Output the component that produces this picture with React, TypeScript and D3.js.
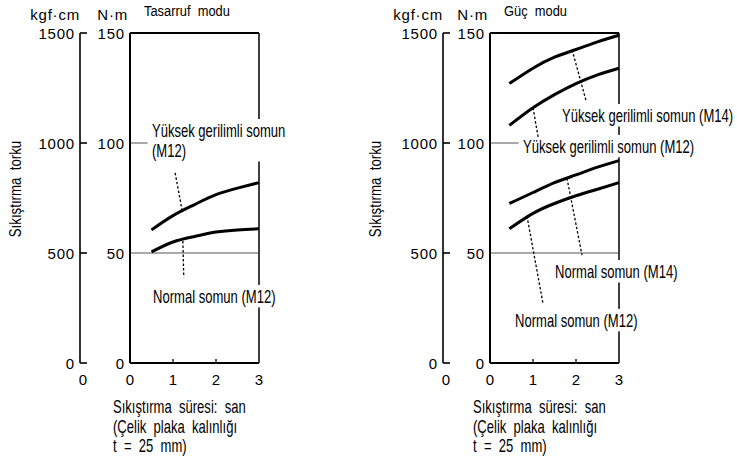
import React, { useEffect, useRef } from 'react';
import * as d3 from 'd3';

const W = 737;
const H = 463;

const timeTicks = [0, 1, 2, 3];
const nmTicks = [0, 50, 100, 150];
const kgfTicks = [0, 500, 1000, 1500];
const gridValues = [50, 100];

const panelTitles = ['Tasarruf  modu', 'Güç  modu'];
const yTitle = 'Sıkıştırma  torku';
const xTitleLines = ['Sıkıştırma  süresi:  san', '(Çelik  plaka  kalınlığı', 't  =  25  mm)'];

// Tasarruf modu (N·m vs seconds)
const ecoHighM12: [number, number][] = [[0.5, 60.5], [1, 67], [1.5, 72], [2, 76.5], [2.5, 79.5], [3, 82]];
const ecoNormalM12: [number, number][] = [[0.5, 50.5], [1, 55], [1.5, 57.5], [2, 59.5], [2.5, 60.5], [3, 61]];
// Güç modu
const powHighM14: [number, number][] = [[0.45, 127], [1, 134], [1.5, 139], [2, 142.5], [2.5, 146], [3, 149]];
const powHighM12: [number, number][] = [[0.45, 108], [1, 116], [1.5, 122], [2, 127], [2.5, 131], [3, 134]];
const powNormalM14: [number, number][] = [[0.45, 72.5], [1, 77.5], [1.5, 82], [2, 85.5], [2.5, 89], [3, 92]];
const powNormalM12: [number, number][] = [[0.45, 61], [1, 68], [1.5, 72.5], [2, 76], [2.5, 79], [3, 82]];

// annotation labels: text lines, anchor (t, N·m) of first baseline, leader from/to (t, N·m)
type Ann = { lines: string[]; at: [number, number]; leader: [[number, number], [number, number]] };
const ecoLabels: Ann[] = [
  { lines: ['Yüksek gerilimli somun', '(M12)'], at: [0.51, 102.7], leader: [[1.05, 86.4], [1.21, 69.5]] },
  { lines: ['Normal somun (M12)'], at: [0.535, 27.3], leader: [[1.23, 55.5], [1.25, 39]] },
];
const powLabels: Ann[] = [
  { lines: ['Yüksek gerilimli somun (M14)'], at: [1.674, 109.5], leader: [[1.91, 142.3], [2.23, 119.5]] },
  { lines: ['Yüksek gerilimli somun (M12)'], at: [0.767, 95.5], leader: [[1.0, 116], [1.12, 102.7]] },
  { lines: ['Normal somun (M14)'], at: [1.512, 38.6], leader: [[1.79, 84], [2.14, 49]] },
  { lines: ['Normal somun (M12)'], at: [0.581, 16.4], leader: [[0.86, 66.8], [1.23, 27.3]] },
];

const NUM_FONT = '"Liberation Sans", Arial, sans-serif';
const NARROW_FONT = '"Liberation Sans", Arial, sans-serif';
const NARROW = 0.725;

type Panel = {
  kgfX: number;
  left: number;
  right: number;
  yTitleX: number;
  title: string;
  series: [number, number][][];
  labels: Ann[];
};

const panels: Panel[] = [
  { kgfX: 80, left: 130, right: 259, yTitleX: 21, title: panelTitles[0], series: [ecoHighM12, ecoNormalM12], labels: ecoLabels },
  { kgfX: 443, left: 490, right: 619, yTitleX: 381, title: panelTitles[1], series: [powHighM14, powHighM12, powNormalM14, powNormalM12], labels: powLabels },
];

const TOP = 33;
const BOTTOM = 363;

export default function App() {
  const ref = useRef<SVGSVGElement>(null);

  useEffect(() => {
    const svg = d3.select(ref.current);
    svg.selectAll('*').remove();
    svg.append('rect').attr('width', W).attr('height', H).attr('fill', '#fff');

    panels.forEach((p) => {
      const g = svg.append('g');
      const x = d3.scaleLinear().domain([0, 3]).range([p.left, p.right]);
      const y = d3.scaleLinear().domain([0, 150]).range([BOTTOM, TOP]);
      const yk = d3.scaleLinear().domain([0, 1500]).range([BOTTOM, TOP]);

      // units & title
      g.append('text').attr('x', p.kgfX).attr('y', 20).attr('text-anchor', 'end')
        .attr('font-family', NUM_FONT).attr('font-size', 15).attr('letter-spacing', 0.8).text('kgf·cm');
      g.append('text').attr('x', p.left - 2).attr('y', 20).attr('text-anchor', 'end')
        .attr('font-family', NUM_FONT).attr('font-size', 15).attr('letter-spacing', 0.8).text('N·m');
      g.append('text').attr('transform', `translate(${p.left + 14},16) scale(0.86,1)`)
        .attr('font-family', NARROW_FONT).attr('font-size', 15)
        .style('white-space', 'pre').text(p.title);

      // kgf axis
      g.append('line').attr('x1', p.kgfX).attr('x2', p.kgfX).attr('y1', yk(1500)).attr('y2', yk(0))
        .attr('stroke', '#000').attr('stroke-width', 1.6);
      kgfTicks.forEach((v) => {
        g.append('line').attr('x1', p.kgfX).attr('x2', p.kgfX + 7).attr('y1', yk(v)).attr('y2', yk(v))
          .attr('stroke', '#000').attr('stroke-width', 1.6);
        g.append('text').attr('x', p.kgfX - 5).attr('y', yk(v) + 5.5).attr('text-anchor', 'end')
          .attr('font-family', NUM_FONT).attr('font-size', 15).attr('letter-spacing', 0.8).text(String(v));
      });

      // N·m tick labels
      nmTicks.forEach((v) => {
        g.append('text').attr('x', p.left - 5).attr('y', y(v) + 5.5).attr('text-anchor', 'end')
          .attr('font-family', NUM_FONT).attr('font-size', 15).attr('letter-spacing', 0.8).text(String(v));
      });

      // grid lines
      gridValues.forEach((v) => {
        g.append('line').attr('x1', p.left).attr('x2', p.right).attr('y1', y(v)).attr('y2', y(v))
          .attr('stroke', '#555').attr('stroke-width', 1);
      });

      // box
      g.append('line').attr('x1', p.left).attr('x2', p.right).attr('y1', TOP).attr('y2', TOP)
        .attr('stroke', '#000').attr('stroke-width', 2);
      g.append('line').attr('x1', p.left).attr('x2', p.left).attr('y1', TOP).attr('y2', BOTTOM)
        .attr('stroke', '#000').attr('stroke-width', 2);
      g.append('line').attr('x1', p.left).attr('x2', p.right).attr('y1', BOTTOM).attr('y2', BOTTOM)
        .attr('stroke', '#000').attr('stroke-width', 2);
      g.append('line').attr('x1', p.right).attr('x2', p.right).attr('y1', TOP).attr('y2', BOTTOM)
        .attr('stroke', '#000').attr('stroke-width', 1.5);

      // x ticks
      timeTicks.forEach((t) => {
        if (t > 0 && t < 3) {
          g.append('line').attr('x1', x(t)).attr('x2', x(t)).attr('y1', BOTTOM).attr('y2', BOTTOM - 4)
            .attr('stroke', '#000').attr('stroke-width', 1.3);
        }
        g.append('text').attr('x', x(t)).attr('y', 385).attr('text-anchor', 'middle')
          .attr('font-family', NUM_FONT).attr('font-size', 15).text(String(t));
      });
      g.append('text').attr('x', p.kgfX + 3).attr('y', 385).attr('text-anchor', 'middle')
        .attr('font-family', NUM_FONT).attr('font-size', 15).text('0');

      // x title
      xTitleLines.forEach((line, i) => {
        g.append('text').attr('transform', `translate(${p.left - 17},${413 + i * 19.5}) scale(${NARROW},1)`)
          .attr('font-family', NARROW_FONT).attr('font-size', 18)
          .style('white-space', 'pre').text(line);
      });

      // y title
      g.append('text').attr('transform', `translate(${p.yTitleX},189) rotate(-90) scale(0.78,1)`)
        .attr('text-anchor', 'middle').attr('font-family', NARROW_FONT).attr('font-size', 17)
        .style('white-space', 'pre').text(yTitle);

      // labels with white background
      p.labels.forEach((a) => {
        const lg = g.append('g').attr('transform', `translate(${x(a.at[0])},${y(a.at[1])}) scale(${NARROW},1)`);
        const txt = lg.append('text').attr('font-family', NARROW_FONT).attr('font-size', 18);
        a.lines.forEach((line, i) => {
          txt.append('tspan').attr('x', 0).attr('y', i * 20).text(line);
        });
        const bb = (txt.node() as SVGTextElement).getBBox();
        lg.insert('rect', 'text').attr('x', bb.x - 6).attr('y', bb.y - 2)
          .attr('width', bb.width + 12).attr('height', bb.height + 3).attr('fill', '#fff');
      });

      // curves
      const line = d3.line<[number, number]>().x((d) => x(d[0])).y((d) => y(d[1])).curve(d3.curveNatural);
      p.series.forEach((s) => {
        g.append('path').attr('d', line(s)).attr('fill', 'none').attr('stroke', '#000')
          .attr('stroke-width', 3);
      });

      // leaders
      p.labels.forEach((a) => {
        g.append('line').attr('x1', x(a.leader[0][0])).attr('y1', y(a.leader[0][1]))
          .attr('x2', x(a.leader[1][0])).attr('y2', y(a.leader[1][1]))
          .attr('stroke', '#000').attr('stroke-width', 1.3).attr('stroke-dasharray', '2.5,2');
      });
    });
  }, []);

  return (
    <svg ref={ref} width={W} height={H} style={{ position: 'absolute', left: 0, top: 0, display: 'block' }} />
  );
}
